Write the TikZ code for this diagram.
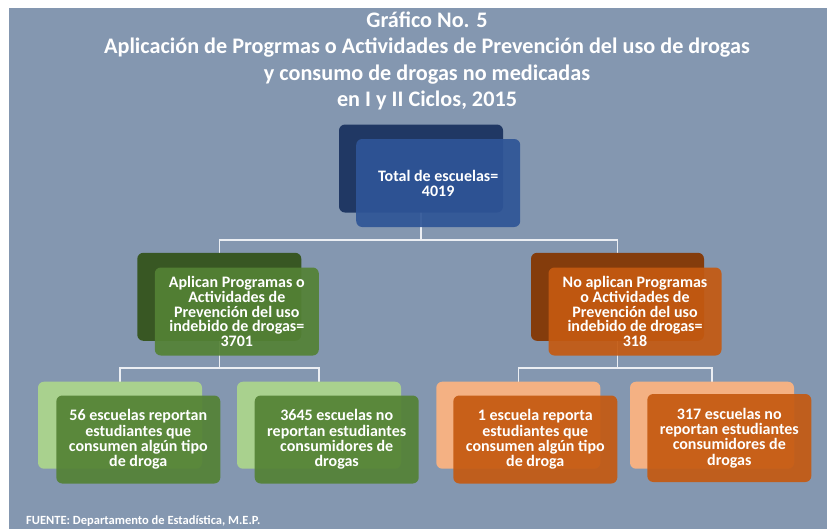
\documentclass[tikz,border=0pt]{standalone}
\usepackage{fontspec}
\setmainfont{Carlito}
\definecolor{bg}{RGB}{132,151,176}
\definecolor{navyback}{RGB}{32,56,100}
\definecolor{navyfront}{RGB}{47,85,151}
\definecolor{greenback}{RGB}{56,87,35}
\definecolor{greenfront}{RGB}{84,130,53}
\definecolor{greenlight}{RGB}{169,209,142}
\definecolor{orangeback}{RGB}{132,60,12}
\definecolor{orangefront}{RGB}{197,90,17}
\definecolor{orangelight}{RGB}{244,177,131}
\definecolor{linec}{RGB}{235,238,243}
\begin{document}
\begin{tikzpicture}[x=1pt,y=-1pt,
  box/.style={rounded corners=6pt, minimum width=164pt, minimum height=88pt, inner sep=0pt, draw=none},
  backbox/.style={box, fill=#1},
  frontbox/.style={box, fill=#1, fill opacity=0.92, text opacity=1, text=white, align=center},
  midtext/.style={font=\bfseries\fontsize{16}{14.9}\selectfont},
  kidtext/.style={font=\bfseries\fontsize{16}{15.3}\selectfont},
  conn/.style={draw=linec, line width=1.3pt},
  titletext/.style={text=white, font=\bfseries\fontsize{22.2}{24}\selectfont, anchor=base}
]
\useasboundingbox (0,0) rectangle (827,531);
\fill[bg] (9,8) rectangle (827,529);

% title
\node[titletext] (t1) at (427,27) {Gráfico No. 5};
\node[titletext] (t2) at (427,53.5) {Aplicación de Progrmas o Actividades de Prevención del uso de drogas};
\node[titletext] (t3) at (427,80) {y consumo de drogas no medicadas};
\node[titletext] (t4) at (427,106.5) {en I y II Ciclos, 2015};

% junction coordinates
\coordinate (j0) at (421,240);
\coordinate (jg) at (219.3,368);
\coordinate (jo) at (617.5,368);

% back box positions
\path (421,168.5) coordinate (ptb);
\path (219.3,296.8) coordinate (pgb);
\path (617.5,296.8) coordinate (pob);
\path (120,425.2) coordinate (pg1b);
\path (319,425.2) coordinate (pg2b);
\path (518.3,425.2) coordinate (po1b);
\path (712,425.2) coordinate (po2b);

% connectors (behind boxes)
\draw[conn] (ptb) -- (j0);
\draw[conn] (j0) -| (pgb);
\draw[conn] (j0) -| (pob);
\draw[conn] (pgb) -- (jg);
\draw[conn] (jg) -| (pg1b);
\draw[conn] (jg) -| (pg2b);
\draw[conn] (pob) -- (jo);
\draw[conn] (jo) -| (po1b);
\draw[conn] (jo) -| (po2b);

% back boxes
\node[backbox=navyback] (tb) at (ptb) {};
\node[backbox=greenback] (gb) at (pgb) {};
\node[backbox=orangeback, minimum width=173pt] (ob) at (pob) {};
\node[backbox=greenlight, minimum height=87pt] (g1b) at (pg1b) {};
\node[backbox=greenlight, minimum height=87pt] (g2b) at (pg2b) {};
\node[backbox=orangelight, minimum height=87pt] (o1b) at (po1b) {};
\node[backbox=orangelight, minimum height=87pt] (o2b) at (po2b) {};

% front boxes
\node[frontbox=navyfront, midtext] (tf) at (438.2,183) {Total de escuelas=\\4019};
\node[frontbox=greenfront, midtext] (gf) at (236.8,311.5) {Aplican Programas o\\Actividades de\\Prevención del uso\\indebido de drogas=\\3701};
\node[frontbox=orangefront, midtext, minimum width=173pt] (of) at (635,311.5) {No aplican Programas\\o Actividades de\\Prevención del uso\\indebido de drogas=\\318};
\node[frontbox=greenfront, kidtext] (g1f) at (138.3,439.5) {56 escuelas reportan\\estudiantes que\\consumen algún tipo\\de droga};
\node[frontbox=greenfront, kidtext] (g2f) at (336.7,439.5) {3645 escuelas no\\reportan estudiantes\\consumidores de\\drogas};
\node[frontbox=orangefront, kidtext] (o1f) at (535.3,439.5) {1 escuela reporta\\estudiantes que\\consumen algún tipo\\de droga};
\node[frontbox=orangefront, kidtext] (o2f) at (729.3,438) {317 escuelas no\\reportan estudiantes\\consumidores de\\drogas};

% footer
\node[text=white, font=\bfseries\fontsize{12.5}{14}\selectfont, anchor=base west, inner sep=0pt] (src) at (26,524) {FUENTE: Departamento de Estadística, M.E.P.};
\end{tikzpicture}
\end{document}
